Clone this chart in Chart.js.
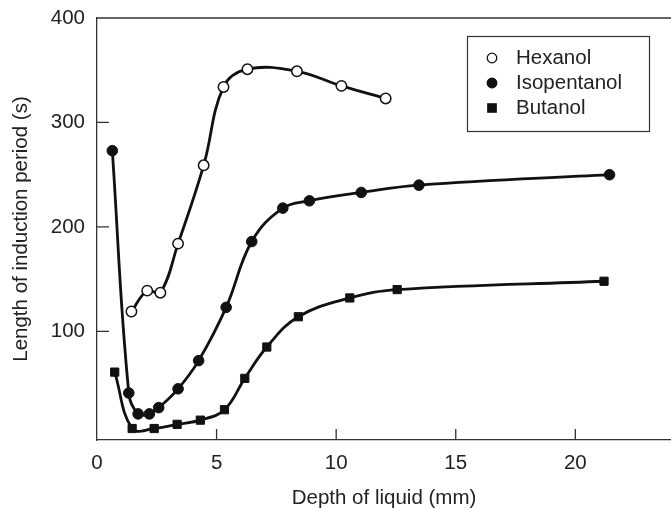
<!DOCTYPE html>
<html>
<head>
<meta charset="utf-8">
<script src="https://cdn.jsdelivr.net/npm/chart.js@4.4.0/dist/chart.umd.min.js"></script>
<style>
  body { margin: 0; background: #fff; }
  #wrap { width: 671px; height: 509px; }
</style>
</head>
<body>
<div id="wrap"><canvas id="chart"></canvas></div>
<script>
const xTicks = [0, 5, 10, 15, 20];
const yTicks = [100, 200, 300, 400];

const hexanolX = [1.44, 2.10, 2.65, 3.39, 4.46, 5.29, 6.29, 8.36, 10.22, 12.07];
const hexanolY = [119, 139, 137, 184, 259, 334, 351, 349, 335, 323];

const isopentanolX = [0.64, 1.33, 1.72, 2.19, 2.58, 3.39, 4.25, 5.40, 6.47, 7.77, 8.88, 11.05, 13.46, 21.43];
const isopentanolY = [273, 41, 21, 21, 27, 45, 72, 123, 186, 218, 225, 233, 240, 250];

const butanolX = [0.74, 1.47, 2.39, 3.35, 4.32, 5.33, 6.18, 7.10, 8.42, 10.57, 12.55, 21.20];
const butanolY = [61, 7, 7, 11, 15, 25, 55, 85, 114, 132, 140, 148];

const INK = '#111';
const TEXT = '#222';
const FONT = '"Liberation Sans", Arial, Helvetica, sans-serif';

function pts(xs, ys) {
    return xs.map((v, i) => ({ x: v, y: ys[i] }));
}

// frame: top border line plus inward tick marks
const framePlugin = {
    id: 'frame',
    beforeDatasetsDraw(chart) {
        const { ctx, chartArea: a, scales: { x, y } } = chart;
        ctx.save();
        ctx.strokeStyle = '#333';
        ctx.lineWidth = 1.3;
        ctx.beginPath();
        ctx.moveTo(a.left, a.top);
        ctx.lineTo(a.right, a.top);
        xTicks.forEach(v => {
            if (v === 0) return;
            const px = x.getPixelForValue(v);
            ctx.moveTo(px, a.bottom);
            ctx.lineTo(px, a.bottom - 11);
        });
        yTicks.forEach(v => {
            if (v === 400) return;
            const py = y.getPixelForValue(v);
            ctx.moveTo(a.left, py);
            ctx.lineTo(a.left + 12, py);
        });
        ctx.stroke();
        ctx.restore();
    }
};

// boxed legend in the top right corner
const boxLegend = {
    id: 'boxLegend',
    afterDraw(chart) {
        const ctx = chart.ctx;
        ctx.save();
        ctx.strokeStyle = '#333';
        ctx.lineWidth = 1.2;
        ctx.strokeRect(467.5, 36.5, 182, 95);
        ctx.font = '20.5px ' + FONT;
        ctx.textBaseline = 'middle';
        ctx.textAlign = 'left';
        const rows = [58, 83, 108];
        chart.data.datasets.forEach((ds, i) => {
            const cy = rows[i];
            const cx = 492;
            ctx.fillStyle = ds.pointBackgroundColor;
            ctx.strokeStyle = INK;
            ctx.lineWidth = 1.3;
            ctx.beginPath();
            if (ds.pointStyle === 'rect') {
                ctx.rect(cx - 4.2, cy - 4.2, 8.4, 8.4);
            } else {
                ctx.arc(cx, cy, 4.8, 0, Math.PI * 2);
            }
            ctx.fill();
            ctx.stroke();
            ctx.fillStyle = TEXT;
            ctx.fillText(ds.label, 516, cy);
        });
        ctx.restore();
    }
};

new Chart(document.getElementById('chart'), {
    type: 'line',
    data: {
        datasets: [
            {
                label: 'Hexanol',
                data: pts(hexanolX, hexanolY),
                borderColor: INK,
                borderWidth: 2.8,
                pointStyle: 'circle',
                pointRadius: 5.2,
                pointBorderWidth: 1.5,
                pointBackgroundColor: '#fff',
                pointBorderColor: INK,
                tension: 0.4
            },
            {
                label: 'Isopentanol',
                data: pts(isopentanolX, isopentanolY),
                borderColor: INK,
                borderWidth: 2.8,
                pointStyle: 'circle',
                pointRadius: 5.3,
                pointBorderWidth: 1,
                pointBackgroundColor: INK,
                pointBorderColor: INK,
                tension: 0.4
            },
            {
                label: 'Butanol',
                data: pts(butanolX, butanolY),
                borderColor: INK,
                borderWidth: 2.8,
                pointStyle: 'rect',
                pointRadius: 5.8,
                pointBorderWidth: 1,
                pointBackgroundColor: INK,
                pointBorderColor: INK,
                tension: 0.4
            }
        ]
    },
    options: {
        responsive: true,
        maintainAspectRatio: false,
        animation: false,
        layout: { autoPadding: false, padding: { top: 18, right: 0, left: 0, bottom: 0 } },
        plugins: {
            legend: { display: false },
            tooltip: { enabled: false }
        },
        scales: {
            x: {
                type: 'linear',
                min: 0,
                max: 24,
                afterBuildTicks: s => { s.ticks = xTicks.map(v => ({ value: v })); },
                afterFit: s => {
                    s.height = 69;
                    s.paddingLeft = 0;
                    s.paddingRight = 0;
                },
                grid: { display: false, drawTicks: false },
                border: { display: true, color: '#333', width: 1.3 },
                ticks: {
                    padding: 11,
                    color: TEXT,
                    maxRotation: 0,
                    font: { family: FONT, size: 20.5, lineHeight: 1.2 }
                },
                title: {
                    display: true,
                    text: 'Depth of liquid (mm)',
                    color: TEXT,
                    padding: 0,
                    font: { family: FONT, size: 20.5, lineHeight: 1 }
                }
            },
            y: {
                type: 'linear',
                min: -4,
                max: 400,
                afterBuildTicks: s => { s.ticks = yTicks.map(v => ({ value: v })); },
                afterFit: s => {
                    s.width = 97;
                    s.paddingTop = 0;
                    s.paddingBottom = 0;
                },
                grid: { display: false, drawTicks: false },
                border: { display: true, color: '#333', width: 1.3 },
                ticks: {
                    padding: 12,
                    color: TEXT,
                    font: { family: FONT, size: 20.5 }
                },
                title: {
                    display: true,
                    text: 'Length of induction period (s)',
                    color: TEXT,
                    padding: { top: 9, bottom: 0 },
                    font: { family: FONT, size: 20.5, lineHeight: 1.2 }
                }
            }
        }
    },
    plugins: [framePlugin, boxLegend]
});
</script>
</body>
</html>
